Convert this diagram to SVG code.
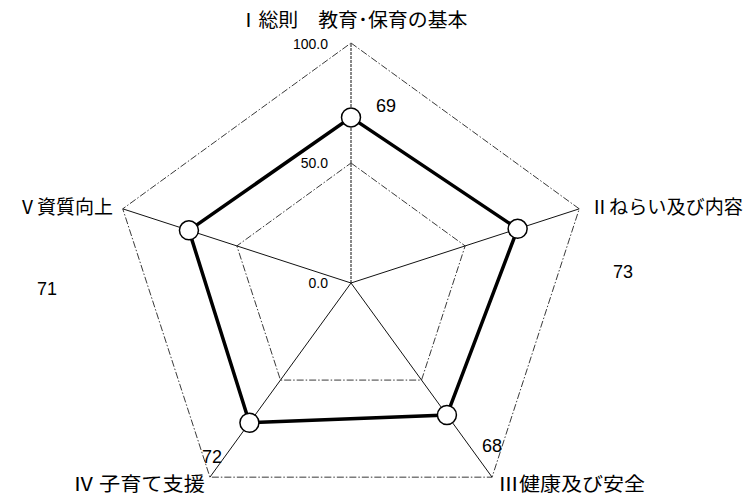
<svg xmlns="http://www.w3.org/2000/svg" width="755" height="502" viewBox="0 0 755 502">
<style>
.grid{fill:none;stroke:#222;stroke-width:0.9;stroke-dasharray:7,2,1.5,2}
.axis{stroke:#111;stroke-width:1}
.data{fill:none;stroke:#000;stroke-width:3.5;stroke-linejoin:miter}
.pt{fill:#fff;stroke:#000;stroke-width:1.5}
.lab{font-family:"Noto Sans CJK JP","Noto Sans",sans-serif;font-size:19px;fill:#000}
.val{font-family:"Liberation Sans",Arial,sans-serif;font-size:18px;fill:#000}
.tick{font-family:"Liberation Sans",Arial,sans-serif;font-size:14px;fill:#000;text-anchor:end}
</style>
<rect width="755" height="502" fill="#fff"/>
<g id="grid">
<polygon class="grid" points="351,43 579.25,208.84 492.07,477.16 209.93,477.16 122.75,208.84"/>
<polygon class="grid" points="351,163 465.13,245.92 421.53,380.08 280.47,380.08 236.87,245.92"/>
</g>
<g id="axes">
<line class="axis" x1="351" y1="283" x2="351" y2="43" stroke-dasharray="3,1"/>
<line class="axis" x1="351" y1="283" x2="579.25" y2="208.84"/>
<line class="axis" x1="351" y1="283" x2="492.07" y2="477.16"/>
<line class="axis" x1="351" y1="283" x2="209.93" y2="477.16"/>
<line class="axis" x1="351" y1="283" x2="122.75" y2="208.84"/>
</g>
<g id="ticks">
<text class="tick" x="328" y="49">100.0</text>
<text class="tick" x="328" y="168">50.0</text>
<text class="tick" x="328" y="288">0.0</text>
</g>
<g id="connectors">
<polygon class="data" points="351,117.4 517.63,228.86 446.93,415.03 249.43,422.8 188.94,230.34"/>
</g>
<g id="node-1">
<circle class="pt" cx="351" cy="117.4" r="9.5"/>
<text class="val" x="376" y="112">69</text>
<text class="lab" x="353" y="27" text-anchor="middle" textLength="229" lengthAdjust="spacingAndGlyphs">Ⅰ総則　教育･保育の基本</text>
</g>
<g id="node-2">
<circle class="pt" cx="517.63" cy="228.86" r="9.5"/>
<text class="val" x="613" y="278">73</text>
<text class="lab" x="590" y="214" textLength="153" lengthAdjust="spacingAndGlyphs">Ⅱねらい及び内容</text>
</g>
<g id="node-3">
<circle class="pt" cx="446.93" cy="415.03" r="9.5"/>
<text class="val" x="482" y="452">68</text>
<text class="lab" x="498" y="491" textLength="147" lengthAdjust="spacingAndGlyphs">Ⅲ健康及び安全</text>
</g>
<g id="node-4">
<circle class="pt" cx="249.43" cy="422.8" r="9.5"/>
<text class="val" x="202" y="463">72</text>
<text class="lab" x="73" y="491" textLength="132" lengthAdjust="spacingAndGlyphs">Ⅳ 子育て支援</text>
</g>
<g id="node-5">
<circle class="pt" cx="188.94" cy="230.34" r="9.5"/>
<text class="val" x="37" y="295">71</text>
<text class="lab" x="18" y="214" textLength="95" lengthAdjust="spacingAndGlyphs">Ⅴ資質向上</text>
</g>
</svg>
